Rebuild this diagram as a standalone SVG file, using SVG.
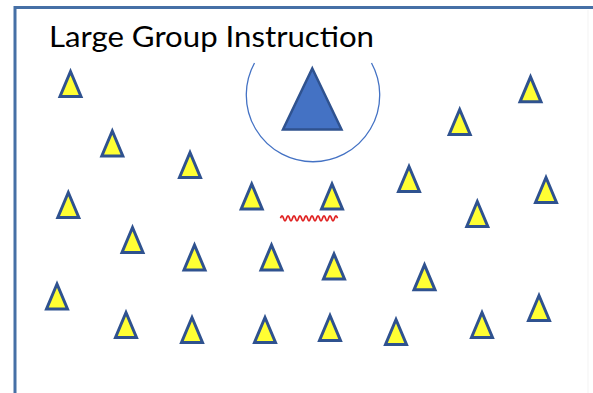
<svg xmlns="http://www.w3.org/2000/svg" xmlns:xlink="http://www.w3.org/1999/xlink" width="593" height="393" viewBox="0 0 593 393">
<style>
.frame{fill:none;stroke:#4670a6;stroke-width:3}
.st{fill:#ffff33;stroke:#2f528f;stroke-width:3;stroke-linejoin:miter}
.title{font-family:Lato,"Liberation Sans",sans-serif;font-size:28px;fill:#000}
</style>
<defs>
<path id="tri" d="M0 -25 L10.5 0 L-10.5 0 Z"/>
</defs>
<rect width="593" height="393" fill="#fff"/>
<g id="frame">
<path class="frame" d="M15 393 V7.5 H593"/>
<line x1="588" y1="10" x2="588" y2="393" stroke="#f3f3f3" stroke-width="1"/>
</g>
<g id="title"><text class="title" x="49" y="47" textLength="325" lengthAdjust="spacingAndGlyphs">Large Group Instruction</text></g>
<g id="teacher">
<path d="M254.5 63 A66.7 66.7 0 1 0 371.5 63" fill="none" stroke="#4472c4" stroke-width="1.3"/>
<path d="M312.3 68.5 L341.5 129.5 L283 129.5 Z" fill="#4472c4" stroke="#2f528f" stroke-width="2.5"/>
</g>
<g id="students">
<use xlink:href="#tri" class="st" x="70.5" y="96.5"/>
<use xlink:href="#tri" class="st" x="112.3" y="156"/>
<use xlink:href="#tri" class="st" x="190" y="177.5"/>
<use xlink:href="#tri" class="st" x="68.3" y="217.5"/>
<use xlink:href="#tri" class="st" x="132.5" y="252.5"/>
<use xlink:href="#tri" class="st" x="194.5" y="270"/>
<use xlink:href="#tri" class="st" x="251.7" y="209"/>
<use xlink:href="#tri" class="st" x="332" y="209"/>
<use xlink:href="#tri" class="st" x="271.5" y="270"/>
<use xlink:href="#tri" class="st" x="334" y="279"/>
<use xlink:href="#tri" class="st" x="409" y="191.5"/>
<use xlink:href="#tri" class="st" x="459.7" y="134.5"/>
<use xlink:href="#tri" class="st" x="530.5" y="101.8"/>
<use xlink:href="#tri" class="st" x="546" y="202.5"/>
<use xlink:href="#tri" class="st" x="477.3" y="226.5"/>
<use xlink:href="#tri" class="st" x="424.5" y="289.8"/>
<use xlink:href="#tri" class="st" x="57" y="309"/>
<use xlink:href="#tri" class="st" x="126" y="337.5"/>
<use xlink:href="#tri" class="st" x="192" y="342.5"/>
<use xlink:href="#tri" class="st" x="265" y="342.5"/>
<use xlink:href="#tri" class="st" x="330" y="340.5"/>
<use xlink:href="#tri" class="st" x="396" y="344.5"/>
<use xlink:href="#tri" class="st" x="482" y="337.5"/>
<use xlink:href="#tri" class="st" x="539" y="320.5"/>
</g>
<g id="squiggle">
<path d="M280.5 218.3 q1.5 -5 3 0 t3 0 t3 0 t3 0 t3 0 t3 0 t3 0 t3 0 t3 0 t3 0 t3 0 t3 0 t3 0 t3 0 t3 0 t3 0 t3 0 t3 0 t3 0" fill="none" stroke="#e02020" stroke-width="1.7"/>
</g>
</svg>
